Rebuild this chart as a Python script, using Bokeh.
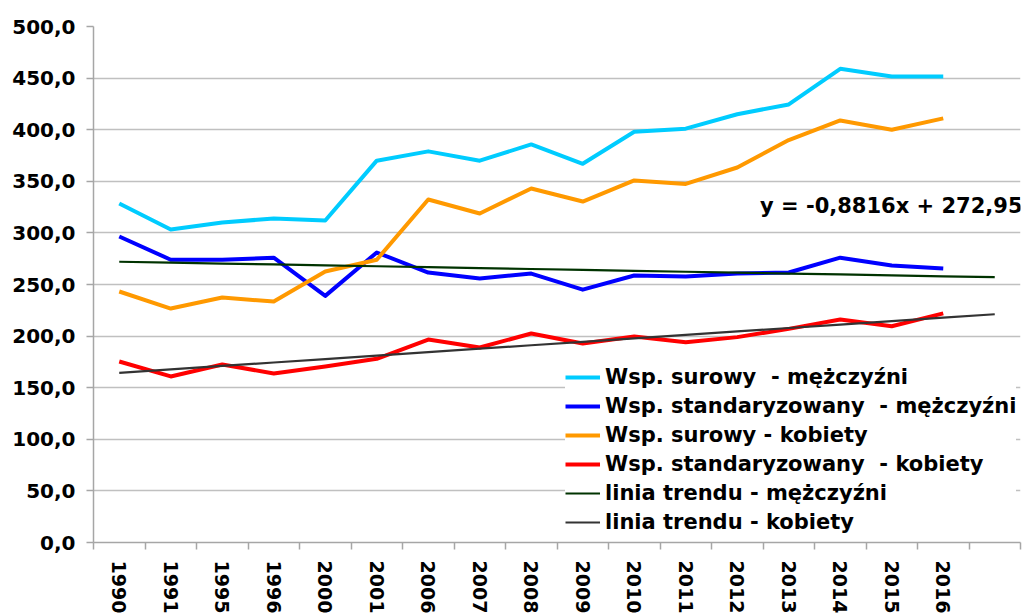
import numpy as np
from bokeh.plotting import figure
from bokeh.models import Range1d, FixedTicker, Label, Legend, LegendItem
from bokeh.embed import file_html
from bokeh.resources import INLINE

years = ["1990", "1991", "1995", "1996", "2000", "2001", "2006", "2007", "2008",
         "2009", "2010", "2011", "2012", "2013", "2014", "2015", "2016"]
surowy_m = [328.5, 303.3, 310.0, 314.0, 312.0, 370.0, 379.0, 370.0, 385.7,
            367.0, 398.0, 401.0, 415.0, 424.5, 459.0, 451.5, 451.5]
stand_m = [296.5, 274.0, 274.0, 276.0, 239.0, 281.0, 261.6, 255.8, 260.6,
           245.0, 258.7, 257.7, 260.6, 261.6, 276.0, 268.4, 265.5]
surowy_k = [243.2, 226.7, 237.4, 233.5, 262.6, 274.0, 332.4, 318.8, 343.0,
            330.4, 350.8, 347.5, 363.4, 390.0, 409.0, 400.0, 411.0]
stand_k = [175.4, 160.9, 172.5, 163.8, 170.5, 178.0, 196.7, 189.0, 202.5,
           192.8, 199.6, 194.0, 199.0, 207.0, 216.0, 209.6, 222.0]
trend_m_coef = [-0.8816, 272.95]
y_ticks = [0, 50, 100, 150, 200, 250, 300, 350, 400, 450, 500]
y_tick_labels = ["0,0", "50,0", "100,0", "150,0", "200,0", "250,0",
                 "300,0", "350,0", "400,0", "450,0", "500,0"]
equation_text = "y = -0,8816x + 272,95"
legend_labels = ["Wsp. surowy \u00a0- mężczyźni", "Wsp. standaryzowany \u00a0- mężczyźni",
                 "Wsp. surowy - kobiety", "Wsp. standaryzowany \u00a0- kobiety",
                 "linia trendu - mężczyźni", "linia trendu - kobiety"]

FONT = "DejaVu Sans"
n = len(years)
x = np.arange(1, n + 1)
x_tr = np.arange(1, n + 2)  # trend forecast one period forward
trend_m = trend_m_coef[0] * x_tr + trend_m_coef[1]
kk = np.polyfit(x, stand_k, 1)
trend_k = kk[0] * x_tr + kk[1]

p = figure(width=1024, height=616, output_backend="svg", toolbar_location=None,
           x_range=Range1d(0.5, n + 1.5), y_range=Range1d(0, 500),
           min_border_left=93, min_border_right=4, min_border_top=26, min_border_bottom=74)
p.outline_line_color = None
p.background_fill_color = "white"

r1 = p.line(x, surowy_m, line_color="#00CCFF", line_width=4, line_join="round")
r2 = p.line(x, stand_m, line_color="#0000FF", line_width=4, line_join="round")
r3 = p.line(x, surowy_k, line_color="#FF9900", line_width=4, line_join="round")
r4 = p.line(x, stand_k, line_color="#FF0000", line_width=4, line_join="round")
r5 = p.line(x_tr, trend_m, line_color="#003300", line_width=2.2)
r6 = p.line(x_tr, trend_k, line_color="#333333", line_width=2.2)

# y axis
p.yaxis.ticker = FixedTicker(ticks=y_ticks)
p.yaxis.major_label_overrides = {t: l for t, l in zip(y_ticks, y_tick_labels)}
p.yaxis.major_label_text_font = FONT
p.yaxis.major_label_text_font_style = "bold"
p.yaxis.major_label_text_font_size = "20px"
p.yaxis.major_label_text_color = "black"
p.yaxis.axis_line_color = "#A6A6A6"
p.yaxis.axis_line_width = 1.5
p.yaxis.major_tick_line_color = "#A6A6A6"
p.yaxis.major_tick_line_width = 1.5
p.yaxis.major_tick_out = 7
p.yaxis.major_tick_in = 0
p.yaxis.minor_tick_line_color = None
p.yaxis.major_label_standoff = 11

# x axis
p.xaxis.ticker = FixedTicker(ticks=list(x), minor_ticks=[i + 0.5 for i in range(n + 2)])
p.xaxis.major_label_overrides = {int(i): y for i, y in zip(x, years)}
p.xaxis.major_label_orientation = "vertical"
p.xaxis.major_label_text_font = FONT
p.xaxis.major_label_text_font_style = "bold"
p.xaxis.major_label_text_font_size = "19px"
p.xaxis.major_label_text_color = "black"
p.xaxis.axis_line_color = "#A6A6A6"
p.xaxis.axis_line_width = 1.5
p.xaxis.major_tick_line_color = None
p.xaxis.major_tick_out = 0
p.xaxis.major_tick_in = 0
p.xaxis.minor_tick_line_color = "#A6A6A6"
p.xaxis.minor_tick_line_width = 1.5
p.xaxis.minor_tick_out = 7
p.xaxis.minor_tick_in = 0
p.xaxis.major_label_standoff = 11

p.xgrid.grid_line_color = None
p.ygrid.ticker = FixedTicker(ticks=y_ticks)
p.ygrid.grid_line_color = "#C0C0C0"
p.ygrid.grid_line_width = 1.5

eq = Label(x=n + 1.5, y=325.6, x_offset=2, text=equation_text, text_align="right",
           text_baseline="middle", text_font=FONT, text_font_style="bold",
           text_font_size="21px", text_color="black")
p.add_layout(eq)

legend = Legend(items=[LegendItem(label=l, renderers=[r]) for l, r in
                       zip(legend_labels, [r1, r2, r3, r4, r5, r6])],
                location=(472, 8), padding=10, margin=0, spacing=5,
                glyph_width=35, glyph_height=24, label_height=24, label_standoff=5,
                label_text_font=FONT, label_text_font_style="bold",
                label_text_font_size="21px", label_text_color="black",
                border_line_color=None, background_fill_color="white",
                background_fill_alpha=1.0)
p.add_layout(legend)

open("out.html", "w").write(file_html(p, INLINE))
